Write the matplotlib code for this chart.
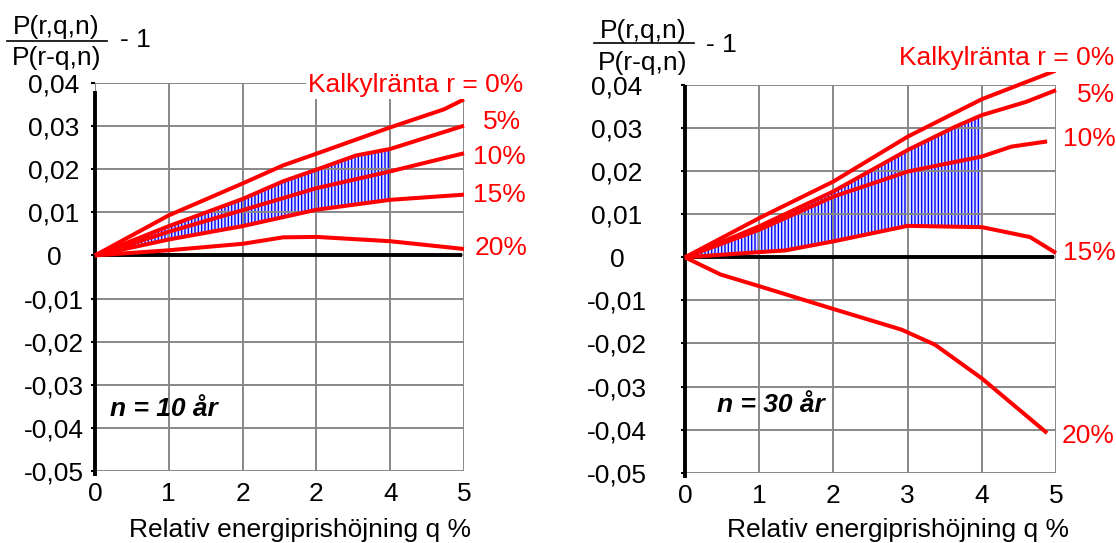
import matplotlib.pyplot as plt
from matplotlib.lines import Line2D
import numpy as np

plt.rcParams['font.family'] = ['Liberation Sans', 'DejaVu Sans']
plt.rcParams['hatch.linewidth'] = 1.0

W, H = 1116, 543
RED = '#ff0000'
GRID = '#888888'
FS = 19

# y-axis ticks and labels (Swedish decimal comma)
yticks = [-0.05, -0.04, -0.03, -0.02, -0.01, 0, 0.01, 0.02, 0.03, 0.04]
ylabels = ['-0,05', '-0,04', '-0,03', '-0,02', '-0,01', '0', '0,01', '0,02', '0,03', '0,04']
xticks = [0, 1, 2, 3, 4, 5]
xlabels_10 = ['0', '1', '2', '2', '4', '5']   # as printed in the original
xlabels_30 = ['0', '1', '2', '3', '4', '5']

# n = 10 år
q10_r0 = [0, 1, 2, 2.55, 3, 4, 4.73, 5]
v10_r0 = [0, 0.0093, 0.0167, 0.0209, 0.0236, 0.0297, 0.0339, 0.0362]
q10_r5 = [0, 1, 2, 2.55, 3, 3.54, 4, 5]
v10_r5 = [0, 0.0068, 0.0131, 0.0172, 0.0199, 0.0232, 0.0247, 0.0301]
q10_r10 = [0, 1, 2, 3, 4, 5]
v10_r10 = [0, 0.0055, 0.0105, 0.0156, 0.0195, 0.0237]
q10_r15 = [0, 1, 2, 3, 4, 5]
v10_r15 = [0, 0.0037, 0.0068, 0.0106, 0.0129, 0.0141]
q10_r20 = [0, 1, 2, 2.55, 3, 4, 5]
v10_r20 = [0, 0.0012, 0.0027, 0.0042, 0.0043, 0.0033, 0.0015]

# n = 30 år
q30_r0 = [0, 1, 2, 3, 4, 4.99]
v30_r0 = [0, 0.0091, 0.0176, 0.0280, 0.0367, 0.0433]
q30_r5 = [0, 1, 2, 3, 3.64, 4, 4.6, 5]
v30_r5 = [0, 0.0072, 0.0153, 0.0249, 0.0303, 0.0330, 0.0361, 0.0388]
q30_r10 = [0, 1, 2, 2.4, 3, 4, 4.4, 4.88]
v30_r10 = [0, 0.0064, 0.0141, 0.0164, 0.0199, 0.0234, 0.0257, 0.0269]
q30_r15 = [0, 1, 1.35, 2, 3, 4, 4.65, 5]
v30_r15 = [0, 0.0012, 0.0016, 0.0037, 0.0073, 0.0070, 0.0047, 0.0010]
q30_r20 = [0, 0.48, 1, 2, 2.92, 3.37, 4, 4.88]
v30_r20 = [0, -0.0040, -0.0067, -0.0120, -0.0168, -0.0203, -0.0281, -0.0408]

rate_labels = ['Kalkylränta r = 0%', '5%', '10%', '15%', '20%']


def px(x, y):
    return x / W, 1 - y / H


fig = plt.figure(figsize=(W / 100, H / 100), dpi=100)

panels = [
    dict(rect=[95 / W, 1 - 471 / H, 369 / W, 388 / H],
         curves=[(q10_r0, v10_r0), (q10_r5, v10_r5), (q10_r10, v10_r10),
                 (q10_r15, v10_r15), (q10_r20, v10_r20)],
         xlabels=xlabels_10, ypad=26.5, axis_top=0.0382,
         label_pos=[(523, 91.7, 'right'), (483, 129.3, 'left'), (473, 164, 'left'),
                    (473, 201.7, 'left'), (475, 255, 'left')],
         title='n = 10 år', title_pos=(164, 415.7),
         xlab_pos=(300, 536.7),
         frac=dict(num=(56, 34), bar=(7, 107, 40.7), den=(57, 65), m1=(120, 47.5))),
    dict(rect=[685 / W, 1 - 472.7 / H, 371 / W, 387.7 / H],
         curves=[(q30_r0, v30_r0), (q30_r5, v30_r5), (q30_r10, v30_r10),
                 (q30_r15, v30_r15), (q30_r20, v30_r20)],
         xlabels=xlabels_30, ypad=46, axis_top=0.0399,
         label_pos=[(1114, 65, 'right'), (1077, 101.7, 'left'), (1063, 145.7, 'left'),
                    (1063, 260, 'left'), (1062, 442.7, 'left')],
         title='n = 30 år', title_pos=(771, 411.7),
         xlab_pos=(898, 536.7),
         frac=dict(num=(643, 38), bar=(594, 694, 43.3), den=(643, 69.5), m1=(706, 52.5))),
]

for p in panels:
    ax = fig.add_axes(p['rect'])
    ax.set_xlim(0, 5)
    ax.set_ylim(-0.05, 0.04)
    for s in ax.spines.values():
        s.set_visible(False)

    ax.set_xticks(xticks)
    ax.set_xticklabels(p['xlabels'], fontsize=FS)
    ax.set_yticks(yticks)
    ax.set_yticklabels(ylabels, fontsize=FS)
    ax.tick_params(axis='x', length=0, pad=8)
    ax.tick_params(axis='y', length=3, width=1.5, pad=p['ypad'])
    for t in ax.get_yticklabels():
        t.set_ha('center')

    ax.grid(True, color=GRID, linewidth=1.4)
    ax.set_axisbelow(False)

    # hatched band between r = 5% and r = 15%, up to q = 4
    (q5, v5), (q15, v15) = p['curves'][1], p['curves'][3]
    up = [(a, b) for a, b in zip(q5, v5) if a <= 4]
    lo = [(a, b) for a, b in zip(q15, v15) if a <= 4][::-1]
    poly = np.array(up + lo)
    ax.fill(poly[:, 0], poly[:, 1], facecolor='#dfe2ff', edgecolor='#0000ff',
            hatch='|||||', linewidth=0, zorder=1)

    # thick axes
    ax.plot([0, 0], [-0.0512, p['axis_top']], color='black', lw=2.8,
            clip_on=False, zorder=3, solid_capstyle='butt')
    ax.plot([0, 4.97], [0, 0], color='black', lw=2.8, clip_on=False, zorder=3,
            solid_capstyle='butt')

    for q, v in p['curves']:
        ax.plot(q, v, color=RED, lw=2.9, clip_on=False, zorder=4,
                solid_joinstyle='round', solid_capstyle='butt')

    for (x, y, ha), txt in zip(p['label_pos'], rate_labels):
        kw = {}
        if txt.startswith('Kalkyl'):
            kw['bbox'] = dict(facecolor='white', edgecolor='none', pad=1.5)
        fig.text(*px(x, y), txt, color=RED, fontsize=FS, ha=ha, va='baseline',
                 zorder=6, **kw)

    fig.text(*px(*p['title_pos']), p['title'], fontsize=FS, fontweight='bold',
             fontstyle='italic', ha='center', va='baseline')
    fig.text(*px(*p['xlab_pos']), 'Relativ energiprishöjning q %', fontsize=FS,
             ha='center', va='baseline')

    f = p['frac']
    fig.text(*px(*f['num']), 'P(r,q,n)', fontsize=FS, ha='center', va='baseline')
    fig.text(*px(*f['den']), 'P(r-q,n)', fontsize=FS, ha='center', va='baseline')
    fig.text(*px(*f['m1']), '- 1', fontsize=FS, ha='left', va='baseline')
    x0, x1, yb = f['bar']
    fig.add_artist(Line2D([x0 / W, x1 / W], [1 - yb / H, 1 - yb / H],
                          transform=fig.transFigure, color='black', lw=1.2))

fig.savefig('out.png', dpi=100)
